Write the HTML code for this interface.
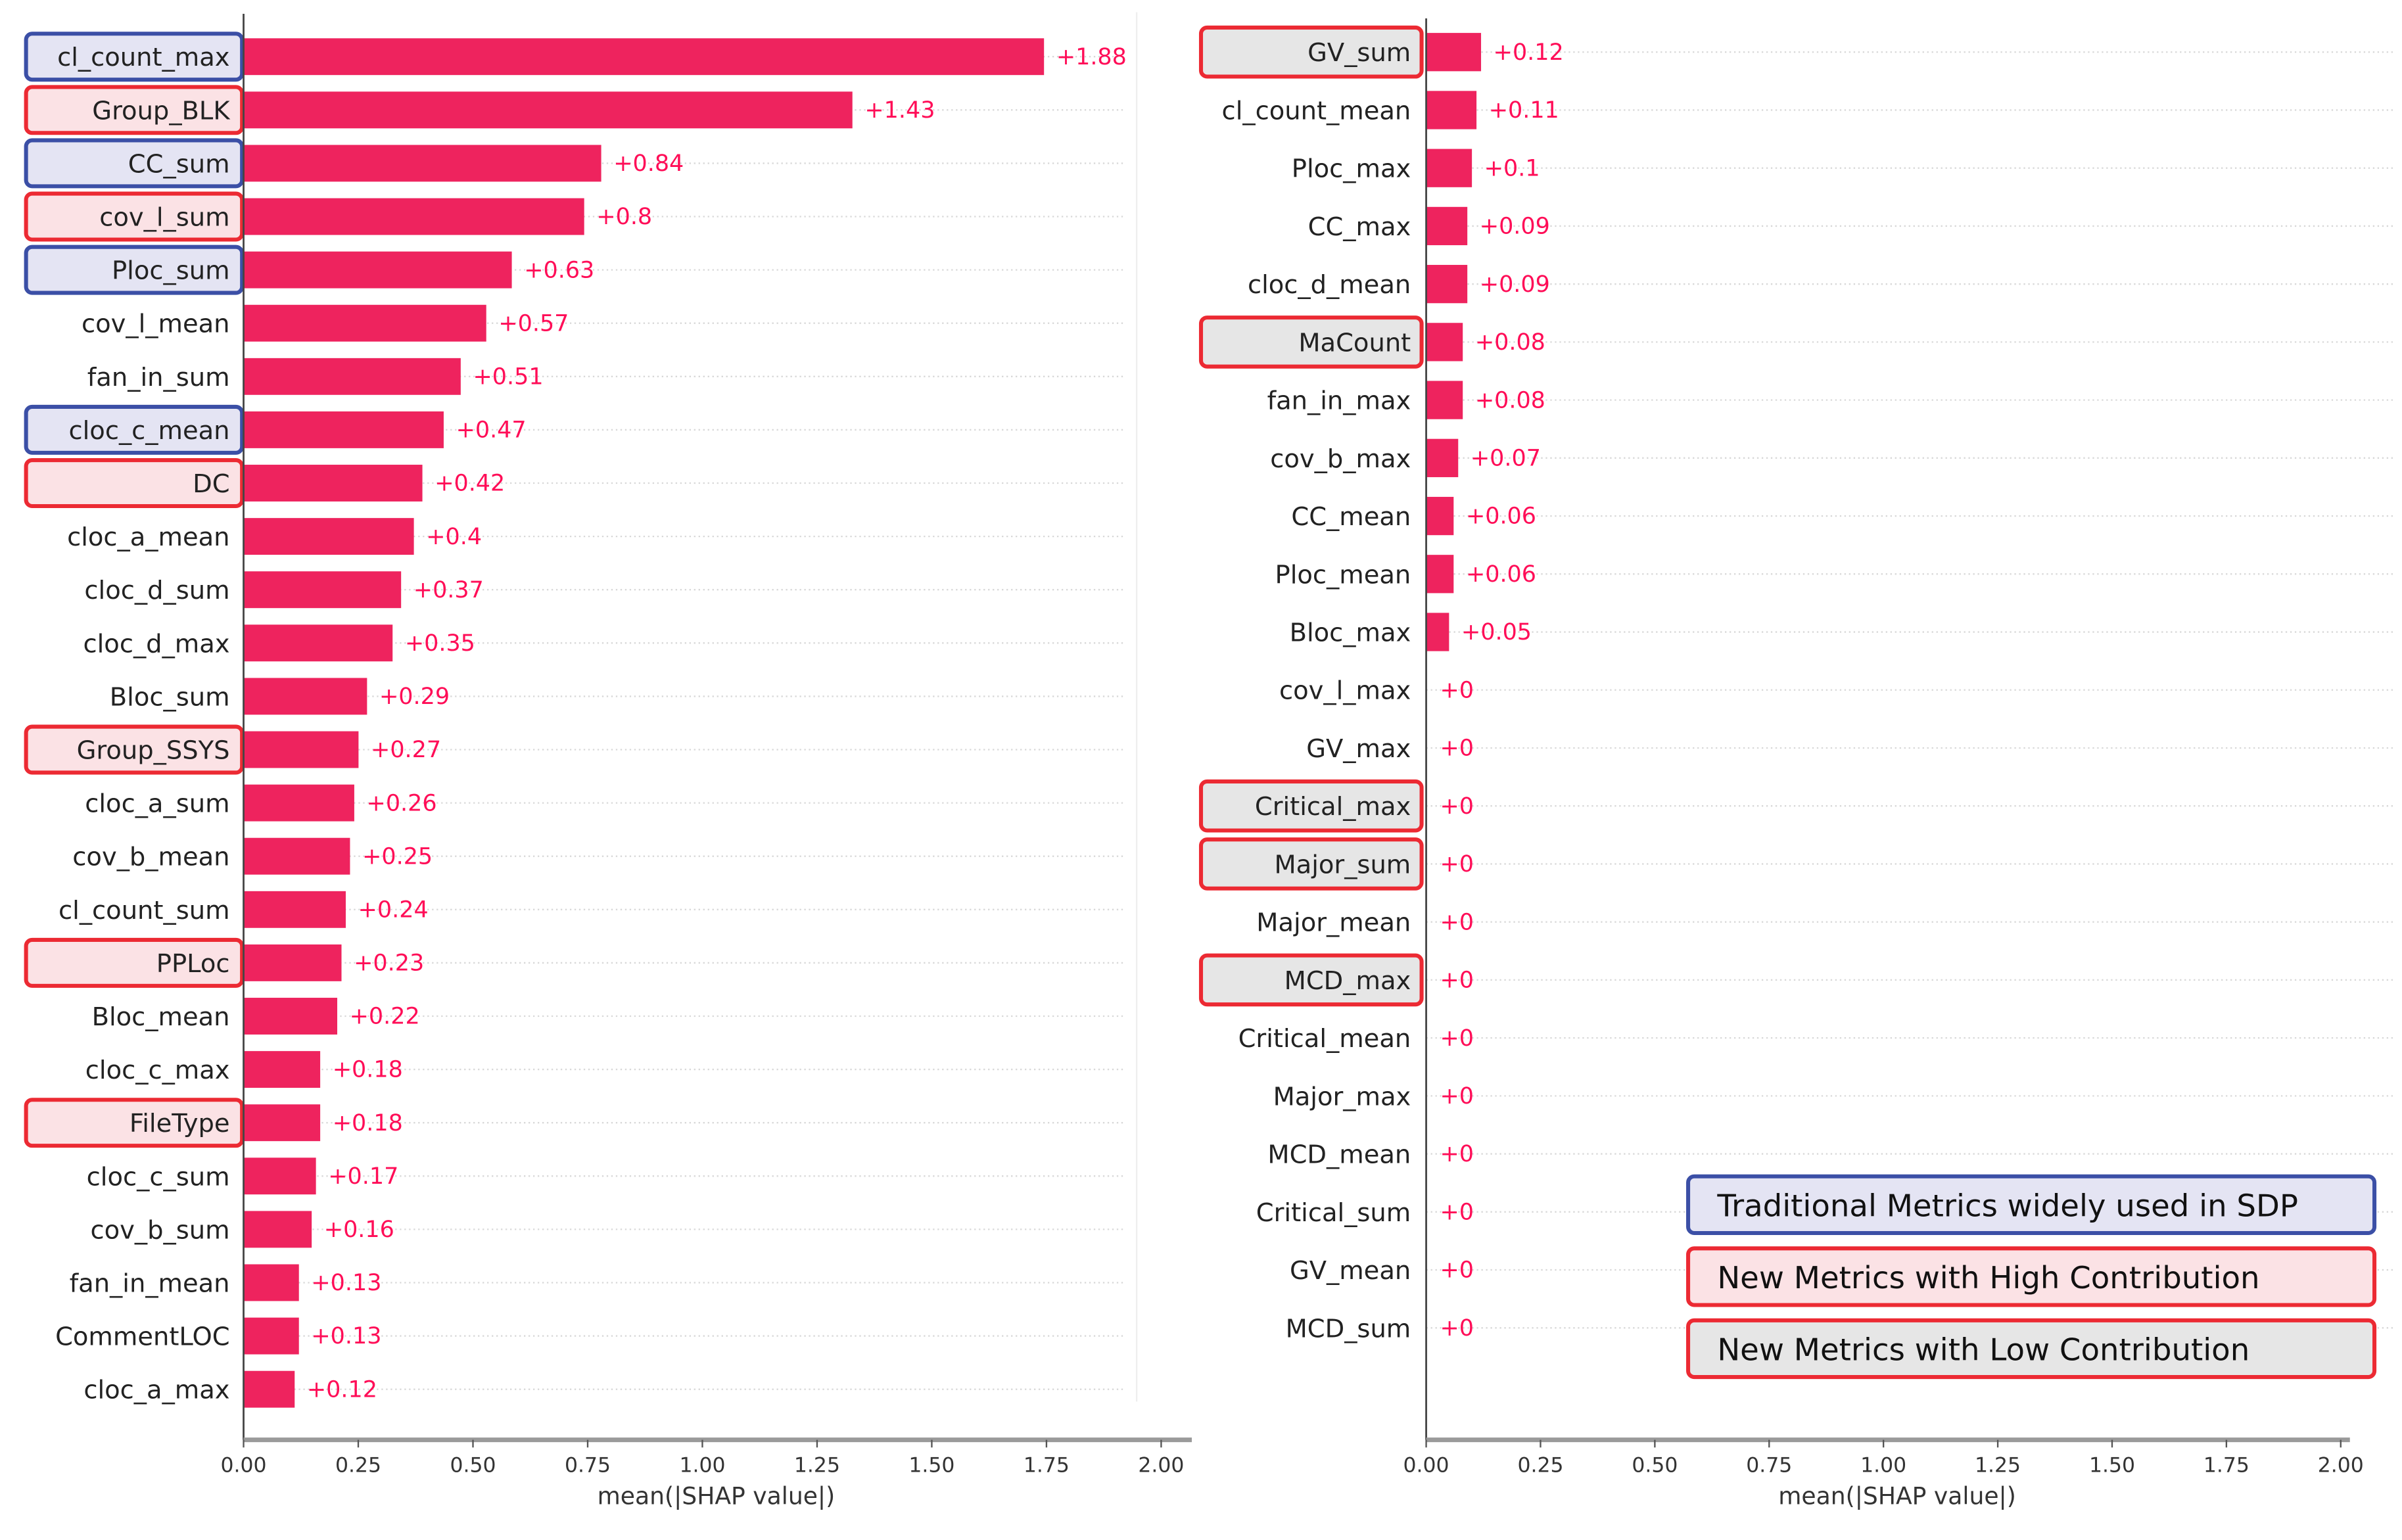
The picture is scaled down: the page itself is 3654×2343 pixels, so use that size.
<!DOCTYPE html>
<html><head><meta charset="utf-8"><style>
html,body{margin:0;padding:0;background:#fff;}
svg{display:block;}
text{font-family:"DejaVu Sans","Liberation Sans",sans-serif;}
</style></head><body>
<svg id="chart" width="3654" height="2343" viewBox="0 0 1568 1005.4" preserveAspectRatio="none" xmlns="http://www.w3.org/2000/svg"></svg>
<script>
// ---- data ----
const leftFeatures = ["cl_count_max","Group_BLK","CC_sum","cov_l_sum","Ploc_sum","cov_l_mean","fan_in_sum","cloc_c_mean","DC","cloc_a_mean","cloc_d_sum","cloc_d_max","Bloc_sum","Group_SSYS","cloc_a_sum","cov_b_mean","cl_count_sum","PPLoc","Bloc_mean","cloc_c_max","FileType","cloc_c_sum","cov_b_sum","fan_in_mean","CommentLOC","cloc_a_max"];
const leftValues = [1.88,1.43,0.84,0.8,0.63,0.57,0.51,0.47,0.42,0.4,0.37,0.35,0.29,0.27,0.26,0.25,0.24,0.23,0.22,0.18,0.18,0.17,0.16,0.13,0.13,0.12];
const leftLabels = ["+1.88","+1.43","+0.84","+0.8","+0.63","+0.57","+0.51","+0.47","+0.42","+0.4","+0.37","+0.35","+0.29","+0.27","+0.26","+0.25","+0.24","+0.23","+0.22","+0.18","+0.18","+0.17","+0.16","+0.13","+0.13","+0.12"];
const leftGroups = ["trad","high","trad","high","trad","","","trad","high","","","","","high","","","","high","","","high","","","","",""];
const rightFeatures = ["GV_sum","cl_count_mean","Ploc_max","CC_max","cloc_d_mean","MaCount","fan_in_max","cov_b_max","CC_mean","Ploc_mean","Bloc_max","cov_l_max","GV_max","Critical_max","Major_sum","Major_mean","MCD_max","Critical_mean","Major_max","MCD_mean","Critical_sum","GV_mean","MCD_sum"];
const rightValues = [0.12,0.11,0.1,0.09,0.09,0.08,0.08,0.07,0.06,0.06,0.05,0,0,0,0,0,0,0,0,0,0,0,0];
const rightLabels = ["+0.12","+0.11","+0.1","+0.09","+0.09","+0.08","+0.08","+0.07","+0.06","+0.06","+0.05","+0","+0","+0","+0","+0","+0","+0","+0","+0","+0","+0","+0"];
const rightGroups = ["low","","","","","low","","","","","","","","low","low","","low","","","","","",""];
const tickValues = [0,0.25,0.5,0.75,1.0,1.25,1.5,1.75,2.0];
const tickLabels = ["0.00","0.25","0.50","0.75","1.00","1.25","1.50","1.75","2.00"];
const legendLabels = ["Traditional Metrics widely used in SDP","New Metrics with High Contribution","New Metrics with Low Contribution"];
const legendGroups = ["trad","high","low"];

const NS="http://www.w3.org/2000/svg";
const svg=document.getElementById('chart');
function mk(tag,attrs,parent){const e=document.createElementNS(NS,tag);for(const k in attrs)e.setAttribute(k,attrs[k]);(parent||svg).appendChild(e);return e;}
const styles={trad:{fill:"#e4e4f3",stroke:"#3b4fa6"},high:{fill:"#fbe2e5",stroke:"#ec2a33"},low:{fill:"#e6e6e6",stroke:"#ec2a33"}};

function panel(cfg){
  const x=v=>cfg.x0+v*cfg.unit;
  const xb=v=>cfg.x0+v*cfg.unit*cfg.barFactor;
  const y=i=>cfg.yFirst+i*cfg.step;
  const g=mk('g',{});
  
  
  // gridlines
  cfg.features.forEach((f,i)=>{
    const gl=mk('line',{x1:cfg.x0,x2:cfg.gridEnd,y1:y(i),y2:y(i),stroke:"#d8d8d8","stroke-width":1,"stroke-dasharray":"1,2"},g);
    
    
  });
  if(cfg.vgrid){const vg=mk('line',{x1:cfg.vgrid,x2:cfg.vgrid,y1:8,y2:915,stroke:"#eeeeee","stroke-width":1},g);
    }
  cfg.features.forEach((f,i)=>{
    const grp=cfg.groups[i];
    if(grp){
      const s=styles[grp];
      const b=mk('rect',{x:cfg.boxX,y:y(i)-cfg.boxH/2,width:cfg.boxW,height:cfg.boxH,rx:4,fill:s.fill,stroke:s.stroke,"stroke-width":2.6},g);
      
      
    }
    const t=mk('text',{x:cfg.labelX,y:y(i)+6,"text-anchor":"end","font-size":16.5,fill:"#222"},g);
    t.textContent=f;
    
    
    const v=cfg.values[i];
    if(v>0){
      const bar=mk('rect',{x:x(0),y:y(i)-cfg.barH/2,width:xb(v)-x(0),height:cfg.barH,fill:"#ee235e"},g);
      
      
    }
    const vl=mk('text',{x:xb(v)+(v>0?8:9),y:y(i)+5,"font-size":15,fill:"#ff0d57"},g);
    vl.textContent=cfg.labels[i];
    
    
  });
  const ya=mk('line',{x1:cfg.x0,x2:cfg.x0,y1:cfg.axisTop,y2:940,stroke:"#444","stroke-width":1.2},g);
  
  const xa=mk('line',{x1:x(0),x2:cfg.axisEnd,y1:940,y2:940,stroke:"#9a9a9a","stroke-width":3},g);
  
  tickValues.forEach((tv,k)=>{
    const tk=mk('line',{x1:x(tv),x2:x(tv),y1:940,y2:945,stroke:"#555","stroke-width":1},g);
    
    const tl=mk('text',{x:x(tv),y:961,"text-anchor":"middle","font-size":13.5,fill:"#333"},g);
    tl.textContent=tickLabels[k];
    
  });
  const xt=mk('text',{x:x(1.03),y:982,"text-anchor":"middle","font-size":15.5,fill:"#333"},g);
  xt.textContent="mean(|SHAP value|)";
  
}

panel({name:'left-panel',features:leftFeatures,values:leftValues,labels:leftLabels,groups:leftGroups,
  x0:159,unit:299.5,barFactor:0.928,yFirst:37,step:34.8,barH:24,gridEnd:735,vgrid:742,
  boxX:17,boxW:141,boxH:30,labelX:150,axisTop:9,axisEnd:778});
panel({name:'right-panel',features:rightFeatures,values:rightValues,labels:rightLabels,groups:rightGroups,
  x0:931,unit:298.5,barFactor:1,yFirst:34,step:37.86,barH:25,gridEnd:1562,vgrid:0,
  boxX:784,boxW:144,boxH:32,labelX:921,axisTop:12,axisEnd:1534});

legendLabels.forEach((lab,k)=>{
  const s=styles[legendGroups[k]];
  const yy=768+k*47;
  const r=mk('rect',{x:1102,y:yy,width:448,height:37,rx:4,fill:s.fill,stroke:s.stroke,"stroke-width":2.6});
  
  
  const t=mk('text',{x:1121,y:yy+26,"font-size":20,fill:"#111"});
  t.textContent=lab;
  
  
});
</script>
</body></html>
